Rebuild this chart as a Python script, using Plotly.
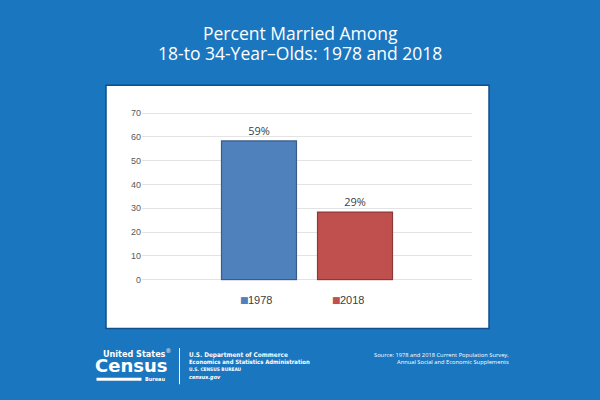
import plotly.graph_objects as go

# ---- data ----
category = ["Percent married"]
years = ["1978", "2018"]
values_1978 = [58.3]
values_2018 = [28.4]
value_labels = ["59%", "29%"]
bar_colors = ["#4F81BD", "#C0504D"]
bar_edges = ["#385D8A", "#8C3836"]
y_ticks = [0, 10, 20, 30, 40, 50, 60, 70]

BG = "#1b76c0"

fig = go.Figure()
for name, vals, lab, col, edge in zip(years, [values_1978, values_2018], value_labels, bar_colors, bar_edges):
    fig.add_trace(go.Bar(
        x=category, y=vals, name=name,
        marker=dict(color=col, line=dict(color=edge, width=1.2)),
        text=[lab], textposition="outside", cliponaxis=False,
        textfont=dict(family="Open Sans", size=11, color="#404040"),
        showlegend=False,
    ))

fig.update_layout(
    width=600, height=400,
    margin=dict(l=0, r=0, t=0, b=0),
    paper_bgcolor=BG, plot_bgcolor="white",
    barmode="group", bargap=0.418, bargroupgap=0.219,
    xaxis=dict(domain=[142/600, 472/600], showticklabels=False, showgrid=False,
               zeroline=False, showline=False, ticks=""),
    yaxis=dict(domain=[1-282.5/400, 1-110.1/400], range=[-0.5, 70.5],
               tickvals=y_ticks, showgrid=True, gridcolor="#e3e3e3", gridwidth=1,
               zeroline=False, showline=False, ticks="",
               tickfont=dict(family="Liberation Sans", size=9, color="#595959")),
    showlegend=False,
)

# white panel
fig.add_shape(type="rect", xref="paper", yref="paper",
              x0=106/600, x1=489/600, y0=1-331/400, y1=1-83/400,
              fillcolor="white", line=dict(color="#0d4f8f", width=1.5), layer="below")

# title (two lines, tighter spacing than the default line height)
for line, yy in [("Percent Married Among", 29.5), ("18-to 34-Year\u2013Olds: 1978 and 2018", 50)]:
    fig.add_annotation(xref="paper", yref="paper", x=0.5, y=1-yy/400,
                       xanchor="center", yanchor="middle", text=line, showarrow=False,
                       font=dict(family="Open Sans", size=17.5, color="white"))

# manual legend: small square + label
for txt, col, xs in [("1978", bar_colors[0], 244.5), ("2018", bar_colors[1], 336.5)]:
    fig.add_annotation(xref="paper", yref="paper", x=xs/600, y=1-302.5/400,
                       xanchor="center", yanchor="middle", text="\u25A0", showarrow=False,
                       font=dict(family="DejaVu Sans", size=9, color=col))
    fig.add_annotation(xref="paper", yref="paper", x=(xs + 1.5)/600, y=1-302.5/400,
                       xanchor="left", yanchor="middle", text=txt, showarrow=False,
                       font=dict(family="Liberation Sans", size=11, color="#404040"))

# footer: logo
fig.add_annotation(xref="paper", yref="paper", x=137/600, y=1-356.5/400,
                   xanchor="center", yanchor="middle",
                   text="<b>United States</b><sup>®</sup>", showarrow=False,
                   font=dict(family="DejaVu Sans Condensed", size=9, color="white"))
fig.add_annotation(xref="paper", yref="paper", x=131/600, y=1-369/400,
                   xanchor="center", yanchor="middle",
                   text="<b>Census</b>", showarrow=False,
                   font=dict(family="DejaVu Sans", size=18, color="white"))
fig.add_shape(type="rect", xref="paper", yref="paper",
              x0=96.5/600, x1=141.5/600, y0=1-384.5/400, y1=1-381.5/400,
              fillcolor="white", line=dict(width=0))
fig.add_annotation(xref="paper", yref="paper", x=154.5/600, y=1-383/400,
                   xanchor="center", yanchor="middle",
                   text="<b>Bureau</b>", showarrow=False,
                   font=dict(family="DejaVu Sans Condensed", size=5.5, color="white"))
fig.add_shape(type="line", xref="paper", yref="paper",
              x0=179.5/600, x1=179.5/600, y0=1-351/400, y1=1-388/400,
              line=dict(color="white", width=1))

dept_lines = [("<b>U.S. Department of Commerce</b>", 357.7, 6.4),
              ("<b>Economics and Statistics Administration</b>", 365.7, 5.9),
              ("<b>U.S. CENSUS BUREAU</b>", 373.3, 4.8),
              ("<b><i>census.gov</i></b>", 381, 5.5)]
for t, yy, fs in dept_lines:
    fig.add_annotation(xref="paper", yref="paper", x=187/600, y=1-yy/400,
                       xanchor="left", yanchor="middle", text=t, showarrow=False,
                       font=dict(family="DejaVu Sans Condensed", size=fs, color="white"))

# source
fig.add_annotation(xref="paper", yref="paper", x=511/600, y=1-362/400,
                   xanchor="right", yanchor="middle", align="right", showarrow=False,
                   text="Source: 1978 and 2018 Current Population Survey,<br>Annual Social and Economic Supplements",
                   font=dict(family="Open Sans", size=5.75, color="white"))

fig.write_html("out.html", config={"displayModeBar": False},
               post_script="document.body.style.margin='0';")
